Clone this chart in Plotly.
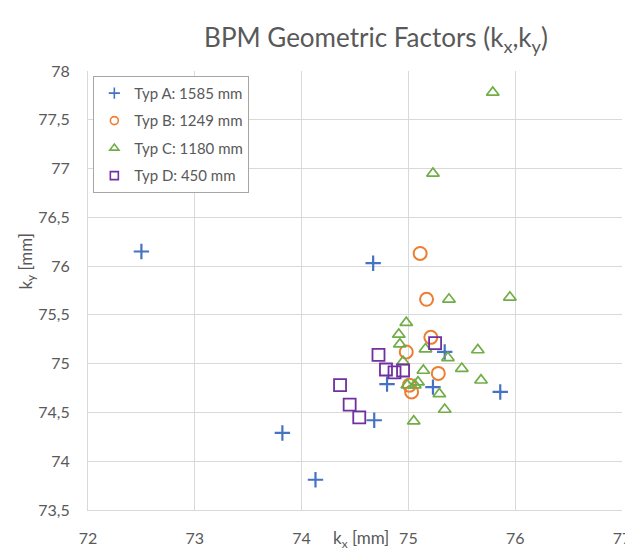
import plotly.graph_objects as go

# Typ A: 1585 mm
a_x = [72.50, 74.67, 73.82, 74.13, 74.80, 74.68, 75.23, 75.86, 75.34]
a_y = [76.15, 76.03, 74.29, 73.81, 74.79, 74.42, 74.76, 74.71, 75.12]
# Typ B: 1249 mm
b_x = [75.11, 75.17, 75.21, 74.98, 75.28, 75.03, 75.01]
b_y = [76.13, 75.66, 75.27, 75.12, 74.90, 74.71, 74.78]
# Typ C: 1180 mm
c_x = [75.79, 75.23, 75.38, 75.95, 74.98, 74.91, 74.92, 75.16, 75.37, 75.65,
       75.50, 75.14, 75.68, 75.29, 75.34, 75.05, 74.99, 75.06, 75.09, 74.95]
c_y = [77.78, 76.95, 75.66, 75.68, 75.42, 75.30, 75.20, 75.15, 75.06, 75.14,
       74.95, 74.93, 74.83, 74.69, 74.53, 74.41, 74.78, 74.78, 74.81, 75.02]
# Typ D: 450 mm
d_x = [74.72, 74.36, 74.45, 74.54, 74.79, 74.87, 74.95, 75.25]
d_y = [75.09, 74.78, 74.58, 74.45, 74.94, 74.91, 74.93, 75.21]

names = ["Typ A: 1585 mm", "Typ B: 1249 mm", "Typ C: 1180 mm", "Typ D: 450 mm"]
colors = ["#4472C4", "#ED7D31", "#70AD47", "#7030A0"]
symbols = ["cross-thin", "circle-open", "triangle-up-open", "square-open"]
sizes = [11, 13, 11, 12]
widths = [2.2, 2, 1.7, 1.8]
leg_sizes = [8, 8, 8, 8]

font_family = "Lato, Open Sans, sans-serif"
txt = "#595959"
grid = "#D9D9D9"

fig = go.Figure()
for i, (xs, ys) in enumerate([(a_x, a_y), (b_x, b_y), (c_x, c_y), (d_x, d_y)]):
    fig.add_trace(go.Scatter(
        x=xs, y=ys, mode="markers", name=names[i], showlegend=False,
        legendgroup=f"g{i}",
        marker=dict(symbol=symbols[i], size=sizes[i], color=colors[i],
                    line=dict(color=colors[i], width=widths[i]))))
# legend entries (smaller symbols, as in the reference legend)
for i in range(4):
    fig.add_trace(go.Scatter(
        x=[None], y=[None], mode="markers", name=names[i], legendgroup=f"g{i}",
        marker=dict(symbol=symbols[i], size=leg_sizes[i], color=colors[i],
                    line=dict(color=colors[i], width=1.6))))

fig.update_layout(
    width=633, height=549,
    margin=dict(l=80, r=10, t=63, b=39),
    paper_bgcolor="white", plot_bgcolor="white",
    separators=", ",
    font=dict(family=font_family, color=txt, size=16),
    title=dict(text="BPM Geometric Factors (k<sub>x</sub>,k<sub>y</sub>)",
               x=368/633, xanchor="center", y=1-30/549, yanchor="middle",
               font=dict(size=26, color=txt, family=font_family)),
    showlegend=True,
    legend=dict(x=0.01, y=0.989, xanchor="left", yanchor="top",
                bordercolor="#A6A6A6", borderwidth=1, bgcolor="white",
                tracegroupgap=5, font=dict(size=15, color=txt),
                itemwidth=30),
    xaxis=dict(range=[72, 77], dtick=1, tick0=72, showgrid=True, gridcolor=grid,
               gridwidth=1, zeroline=False, showline=True, linecolor=grid,
               ticks="", ticklabelstandoff=14,
               tickfont=dict(size=16, color=txt)),
    yaxis=dict(range=[73.5, 78], dtick=0.5, tick0=73.5, showgrid=True, gridcolor=grid,
               gridwidth=1, zeroline=False, showline=True, linecolor=grid,
               ticks="", ticklabelstandoff=14,
               tickfont=dict(size=16, color=txt)),
    annotations=[
        dict(text="k<sub>x</sub> [mm]", x=74.56, y=-0.066, xref="x", yref="paper",
             showarrow=False, xanchor="center", yanchor="middle",
             font=dict(size=17, color=txt)),
        dict(text="k<sub>y</sub> [mm]", x=-0.116, y=0.566, xref="paper", yref="paper",
             showarrow=False, textangle=-90, xanchor="center", yanchor="middle",
             font=dict(size=17, color=txt)),
    ],
)

fig.write_html("out.html")
